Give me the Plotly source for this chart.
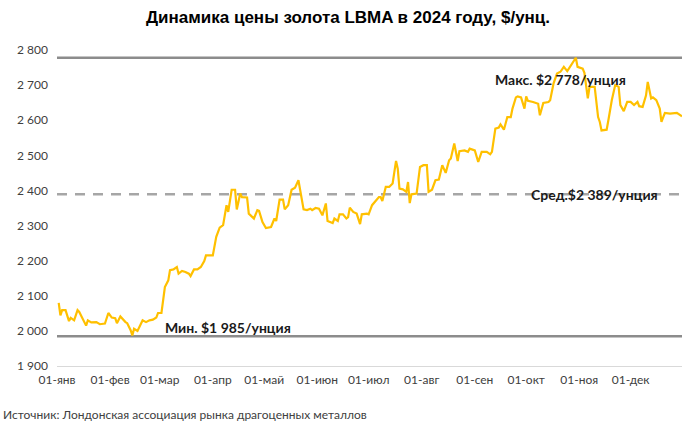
import plotly.graph_objects as go

# LBMA gold price 2024, $/oz
dates = [
    "2024-01-02", "2024-01-03", "2024-01-04", "2024-01-06", "2024-01-08", "2024-01-09", "2024-01-11",
    "2024-01-13", "2024-01-14", "2024-01-16", "2024-01-18", "2024-01-19", "2024-01-21", "2024-01-24",
    "2024-01-26", "2024-01-29", "2024-01-31", "2024-02-02", "2024-02-04", "2024-02-05", "2024-02-07",
    "2024-02-10", "2024-02-11", "2024-02-13", "2024-02-14", "2024-02-15", "2024-02-17", "2024-02-20",
    "2024-02-22", "2024-02-24", "2024-02-26", "2024-02-28", "2024-02-29", "2024-03-02", "2024-03-04",
    "2024-03-06", "2024-03-07", "2024-03-09", "2024-03-11", "2024-03-12", "2024-03-14", "2024-03-16",
    "2024-03-18", "2024-03-19", "2024-03-21", "2024-03-23", "2024-03-25", "2024-03-27", "2024-03-28",
    "2024-03-31", "2024-04-01", "2024-04-03", "2024-04-05", "2024-04-07", "2024-04-09", "2024-04-10",
    "2024-04-12", "2024-04-14", "2024-04-15", "2024-04-17", "2024-04-18", "2024-04-21", "2024-04-22",
    "2024-04-25", "2024-04-27", "2024-04-28", "2024-04-30", "2024-05-02", "2024-05-05", "2024-05-07",
    "2024-05-08", "2024-05-10", "2024-05-12", "2024-05-13", "2024-05-15", "2024-05-17", "2024-05-19",
    "2024-05-21", "2024-05-22", "2024-05-24", "2024-05-26", "2024-05-28", "2024-05-29", "2024-05-31",
    "2024-06-02", "2024-06-04", "2024-06-06", "2024-06-07", "2024-06-10", "2024-06-11", "2024-06-13",
    "2024-06-14", "2024-06-16", "2024-06-18", "2024-06-19", "2024-06-20", "2024-06-22", "2024-06-24",
    "2024-06-26", "2024-06-27", "2024-06-30", "2024-07-01", "2024-07-03", "2024-07-04", "2024-07-07",
    "2024-07-08", "2024-07-09", "2024-07-11", "2024-07-13", "2024-07-15", "2024-07-17", "2024-07-18",
    "2024-07-19", "2024-07-21", "2024-07-23", "2024-07-24", "2024-07-25", "2024-07-26", "2024-07-29",
    "2024-07-31", "2024-08-02", "2024-08-04", "2024-08-05", "2024-08-07", "2024-08-09", "2024-08-11",
    "2024-08-13", "2024-08-15", "2024-08-17", "2024-08-18", "2024-08-20", "2024-08-22", "2024-08-23",
    "2024-08-26", "2024-08-28", "2024-08-29", "2024-09-01", "2024-09-03", "2024-09-05", "2024-09-08",
    "2024-09-10", "2024-09-11", "2024-09-13", "2024-09-15", "2024-09-16", "2024-09-18", "2024-09-20",
    "2024-09-22", "2024-09-23", "2024-09-25", "2024-09-26", "2024-09-28", "2024-09-30", "2024-10-01",
    "2024-10-02", "2024-10-05", "2024-10-08", "2024-10-09", "2024-10-11", "2024-10-14", "2024-10-15",
    "2024-10-17", "2024-10-19", "2024-10-21", "2024-10-23", "2024-10-25", "2024-10-28", "2024-10-30",
    "2024-10-31", "2024-11-03", "2024-11-04", "2024-11-06", "2024-11-07", "2024-11-10", "2024-11-12",
    "2024-11-13", "2024-11-14", "2024-11-17", "2024-11-18", "2024-11-20", "2024-11-22", "2024-11-24",
    "2024-11-25", "2024-11-27", "2024-11-29", "2024-12-01", "2024-12-03", "2024-12-05", "2024-12-06",
    "2024-12-08", "2024-12-10", "2024-12-11", "2024-12-13", "2024-12-14", "2024-12-16", "2024-12-18",
    "2024-12-19", "2024-12-21", "2024-12-24", "2024-12-28", "2024-12-31",
]
prices = [
    2080, 2044, 2059, 2059, 2028, 2037, 2030,
    2059, 2054, 2036, 2015, 2030, 2024, 2025,
    2019, 2021, 2051, 2038, 2036, 2022, 2041,
    2025, 2022, 2002, 1987, 2006, 2000, 2030,
    2025, 2030, 2032, 2038, 2051, 2051, 2125,
    2144, 2173, 2175, 2182, 2163, 2171, 2168,
    2163, 2156, 2175, 2175, 2182, 2199, 2215,
    2215, 2215, 2268, 2294, 2301, 2358, 2339,
    2402, 2402, 2346, 2391, 2381, 2380, 2334,
    2320, 2344, 2342, 2310, 2293, 2296, 2320,
    2313, 2374, 2374, 2346, 2358, 2402, 2408,
    2429, 2400, 2346, 2344, 2348, 2344, 2350,
    2348, 2329, 2363, 2313, 2307, 2320, 2313,
    2332, 2332, 2320, 2324, 2351, 2339, 2334,
    2304, 2332, 2334, 2332, 2358, 2364, 2381,
    2381, 2370, 2410, 2410, 2420, 2484, 2462,
    2405, 2403, 2396, 2424, 2364, 2389, 2391,
    2467, 2472, 2472, 2396, 2402, 2429, 2431,
    2472, 2450, 2486, 2491, 2534, 2484, 2512,
    2514, 2510, 2519, 2514, 2481, 2510, 2510,
    2503, 2510, 2576, 2579, 2588, 2573, 2609,
    2609, 2633, 2665, 2668, 2665, 2633, 2668,
    2655, 2652, 2647, 2614, 2649, 2652, 2657,
    2705, 2733, 2738, 2752, 2740, 2761, 2778,
    2752, 2747, 2735, 2662, 2695, 2695, 2609,
    2595, 2571, 2573, 2600, 2657, 2700, 2695,
    2643, 2626, 2652, 2652, 2643, 2652, 2640,
    2638, 2671, 2709, 2662, 2665, 2657, 2633,
    2595, 2621, 2619, 2621, 2611,
]

MAX_PRICE = 2778
AVG_PRICE = 2389
MIN_PRICE = 1985

period = ["2024-01-01", "2024-12-31"]

month_ticks = ["2024-01-01", "2024-02-01", "2024-03-01", "2024-04-01", "2024-05-01", "2024-06-01",
               "2024-07-01", "2024-08-01", "2024-09-01", "2024-10-01", "2024-11-01", "2024-12-01"]
month_labels = ["01-янв", "01-фев", "01-мар", "01-апр", "01-май", "01-июн",
                "01-июл", "01-авг", "01-сен", "01-окт", "01-ноя", "01-дек"]

y_ticks = [1900, 2000, 2100, 2200, 2300, 2400, 2500, 2600, 2700, 2800]
y_labels = ["1 900", "2 000", "2 100", "2 200", "2 300", "2 400", "2 500", "2 600", "2 700", "2 800"]


def fmt(v):
    return "{:,}".format(v).replace(",", " ")


fig = go.Figure()

# max / min / average reference lines
fig.add_shape(type="line", xref="x", yref="y", x0=period[0], x1=period[1], y0=MAX_PRICE, y1=MAX_PRICE,
              line=dict(color="#8c8c8c", width=2.5), layer="below")
fig.add_shape(type="line", xref="x", yref="y", x0=period[0], x1=period[1], y0=MIN_PRICE, y1=MIN_PRICE,
              line=dict(color="#8c8c8c", width=2.5), layer="below")
fig.add_shape(type="line", xref="x", yref="y", x0=period[0], x1=period[1], y0=AVG_PRICE, y1=AVG_PRICE,
              line=dict(color="#a6a6a6", width=2.5, dash="10px,8px"), layer="below")

fig.add_trace(go.Scatter(x=dates, y=prices, mode="lines",
                         line=dict(color="#FFC000", width=2.2)))

label_font = dict(family="Lato, Carlito, sans-serif", size=14, color="#1a1a1a")

fig.add_annotation(x="2024-10-21", y=MAX_PRICE, yshift=-22, showarrow=False,
                   text="<b>Макс. $" + fmt(MAX_PRICE) + "/унция</b>", font=label_font)
fig.add_annotation(x="2024-11-10", y=AVG_PRICE, showarrow=False,
                   text="<b>Сред.$" + fmt(AVG_PRICE) + "/унция</b>", font=label_font)
fig.add_annotation(x="2024-04-10", y=MIN_PRICE, yshift=9, showarrow=False,
                   text="<b>Мин. $" + fmt(MIN_PRICE) + "/унция</b>", font=label_font)

fig.add_annotation(xref="paper", yref="paper", x=-0.09, y=-0.152, xanchor="left", yanchor="middle",
                   showarrow=False, text="Источник: Лондонская ассоциация рынка драгоценных металлов",
                   font=dict(family="Lato, Carlito, sans-serif", size=12, color="#404040"))

fig.update_layout(
    width=696,
    height=431,
    margin=dict(l=57, r=14, t=50, b=65),
    paper_bgcolor="white",
    plot_bgcolor="white",
    showlegend=False,
    title=dict(
        text="<b>Динамика цены золота LBMA в 2024 году, $/унц.</b>",
        x=0.5, xanchor="center", y=0.96, yanchor="middle", yref="container",
        font=dict(family="Liberation Sans, Arial, sans-serif", size=17, color="#000000")
    ),
    xaxis=dict(
        type="date",
        range=period,
        tickvals=month_ticks,
        ticktext=month_labels,
        showgrid=False,
        zeroline=False,
        showline=True,
        linecolor="#d9d9d9",
        linewidth=1,
        ticks="",
        ticklabelstandoff=3,
        tickfont=dict(family="Lato, Carlito, sans-serif", size=12, color="#404040"),
    ),
    yaxis=dict(
        range=[1900, 2800],
        tickvals=y_ticks,
        ticktext=y_labels,
        showgrid=False,
        zeroline=False,
        showline=False,
        ticks="",
        ticklabelstandoff=8,
        tickfont=dict(family="Lato, Carlito, sans-serif", size=12, color="#404040"),
    ),
)

# page body has a default 8px margin; drop it so the figure sits at the top-left corner
fig.write_html("out.html", config={"displayModeBar": False},
               post_script="document.body.style.margin = '0';")
